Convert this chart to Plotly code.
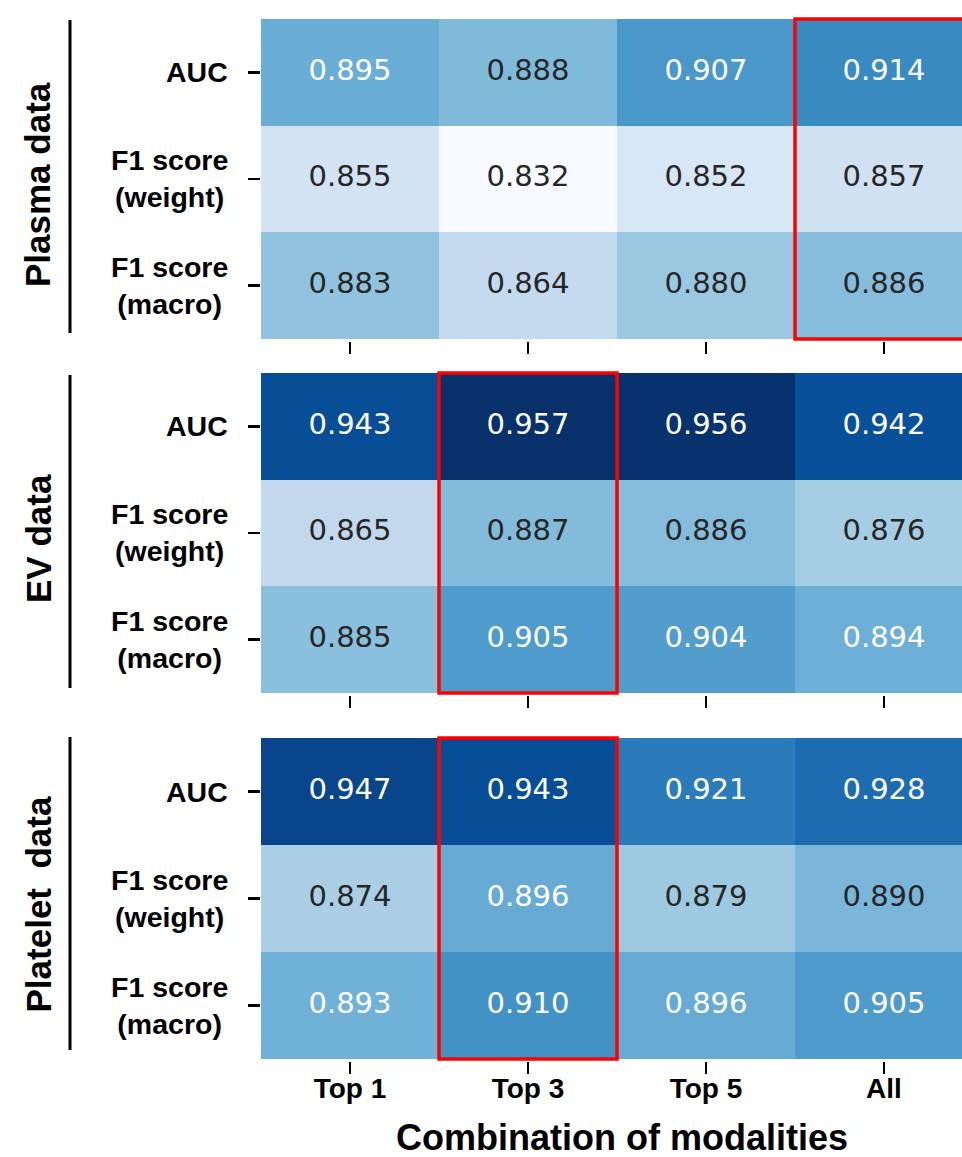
import plotly.graph_objects as go

# ---------------- data ----------------
columns = ["Top 1", "Top 3", "Top 5", "All"]
metrics = ["AUC", "F1 score<br>(weight)", "F1 score<br>(macro)"]
groups = ["Plasma data", "EV data", "Platelet\u00a0\u00a0data"]

plasma = [[0.895, 0.888, 0.907, 0.914],
          [0.855, 0.832, 0.852, 0.857],
          [0.883, 0.864, 0.880, 0.886]]
ev = [[0.943, 0.957, 0.956, 0.942],
      [0.865, 0.887, 0.886, 0.876],
      [0.885, 0.905, 0.904, 0.894]]
platelet = [[0.947, 0.943, 0.921, 0.928],
            [0.874, 0.896, 0.879, 0.890],
            [0.893, 0.910, 0.896, 0.905]]
highlight_col = [3, 1, 1]   # boxed column per panel

panels = [plasma, ev, platelet]

# ---------------- style ----------------
W, H = 962, 1157


def px_x(p):
    return p / W


def px_y(p):
    return 1 - p / H


blues = ["#f7fbff", "#deebf7", "#c6dbef", "#9ecae1", "#6baed6",
         "#4292c6", "#2171b5", "#08519c", "#08306b"]
colorscale = [[i / 8, c] for i, c in enumerate(blues)]
all_vals = [v for p in panels for r in p for v in r]
vmin, vmax = min(all_vals), max(all_vals)


def hex2rgb(h):
    h = h.lstrip("#")
    return [int(h[i:i + 2], 16) for i in (0, 2, 4)]


def cmap(v):
    t = (v - vmin) / (vmax - vmin)
    t = min(max(t, 0), 1)
    pos = t * 8
    i = min(int(pos), 7)
    f = pos - i
    a, b = hex2rgb(blues[i]), hex2rgb(blues[i + 1])
    return [a[k] + (b[k] - a[k]) * f for k in range(3)]


def lum(rgb):
    out = []
    for c in rgb:
        c = c / 255
        out.append(c / 12.92 if c <= 0.03928 else ((c + 0.055) / 1.055) ** 2.4)
    return 0.2126 * out[0] + 0.7152 * out[1] + 0.0722 * out[2]


# panel cell extents in pixels (top, bottom)
panel_px = [(19, 339), (373, 693), (738, 1059)]
line_px = [(20, 333), (375, 688), (737, 1050)]
pad = 0.02          # data-unit pad so the red box edges are not clipped
row_px = (panel_px[0][1] - panel_px[0][0]) / 3
x_left_px = 261
cell_w = 178
x_right = -0.5 + (W - x_left_px) / cell_w

BOLD = "Liberation Sans"

fig = go.Figure()
annotations = []
shapes = []

for k, data in enumerate(panels):
    n = "" if k == 0 else str(k + 1)
    xa, ya = "x" + n, "y" + n
    fig.add_trace(go.Heatmap(
        z=data, x=list(range(len(columns))), y=list(range(len(metrics))),
        zmin=vmin, zmax=vmax, colorscale=colorscale, showscale=False,
        xaxis=xa, yaxis=ya, hoverinfo="skip"))
    for col_kind, color in (("light", "#262626"), ("dark", "white")):
        xs, ys, ts = [], [], []
        for r, row in enumerate(data):
            for c, v in enumerate(row):
                is_dark = lum(cmap(v)) < 0.408
                if (col_kind == "dark") == is_dark:
                    xs.append(c)
                    ys.append(r)
                    ts.append(f"{v:.3f}")
        fig.add_trace(go.Scatter(
            x=xs, y=ys, text=ts, mode="text", xaxis=xa, yaxis=ya,
            textfont=dict(family="DejaVu Sans", size=29, color=color),
            showlegend=False, hoverinfo="skip"))

    top, bot = panel_px[k]
    padpx = pad * row_px
    dom = [px_y(bot + padpx), px_y(top - padpx)]
    fig.layout["xaxis" + n] = dict(
        domain=[px_x(x_left_px), 1], range=[-0.5, x_right], anchor=ya,
        tickvals=list(range(len(columns))), ticktext=columns,
        showticklabels=(k == 2), ticks="outside", ticklen=12, tickwidth=2.5,
        tickcolor="black", showgrid=False, zeroline=False, showline=False,
        ticklabelstandoff=-10,
        tickfont=dict(family=BOLD, size=28, color="black", weight="bold"))
    fig.layout["yaxis" + n] = dict(
        domain=dom, range=[2.5 + pad, -0.5 - pad], anchor=xa,
        tickvals=list(range(len(metrics))), showticklabels=False,
        ticks="outside", ticklen=12, tickwidth=2.5, tickcolor="black",
        showgrid=False, zeroline=False, showline=False)

    for r, m in enumerate(metrics):
        annotations.append(dict(
            text=m, x=px_x(230), xref="paper", y=r, yref=ya, xanchor="right",
            yanchor="middle", align="center", showarrow=False,
            font=dict(family=BOLD, size=28.5, color="black", weight="bold")))
    lt, lb = line_px[k]
    annotations.append(dict(
        text=groups[k], textangle=-90, x=px_x(38), xref="paper",
        y=px_y((top + bot) / 2 + 6), yref="paper", xanchor="center",
        yanchor="middle", showarrow=False,
        font=dict(family=BOLD, size=35, color="black", weight="bold")))
    shapes.append(dict(type="line", xref="paper", yref="paper",
                       x0=px_x(70), x1=px_x(70), y0=px_y(lt), y1=px_y(lb),
                       line=dict(color="black", width=3)))
    hc = highlight_col[k]
    shapes.append(dict(type="rect", xref=xa, yref=ya,
                       x0=hc - 0.5, x1=hc + 0.5, y0=-0.5, y1=2.5,
                       line=dict(color="red", width=3.5),
                       fillcolor="rgba(0,0,0,0)", layer="above"))

annotations.append(dict(
    text="Combination of modalities", x=px_x(622), xref="paper",
    y=px_y(1137), yref="paper", xanchor="center", yanchor="middle",
    showarrow=False,
    font=dict(family=BOLD, size=36, color="black", weight="bold")))

fig.update_layout(
    width=W, height=H, margin=dict(l=0, r=0, t=0, b=0),
    paper_bgcolor="white", plot_bgcolor="white", showlegend=False,
    annotations=annotations, shapes=shapes)

fig.write_html(
    "out.html",
    config={"displayModeBar": False, "staticPlot": True},
    post_script="document.body.style.margin='0';"
                "document.body.style.overflow='hidden';")
